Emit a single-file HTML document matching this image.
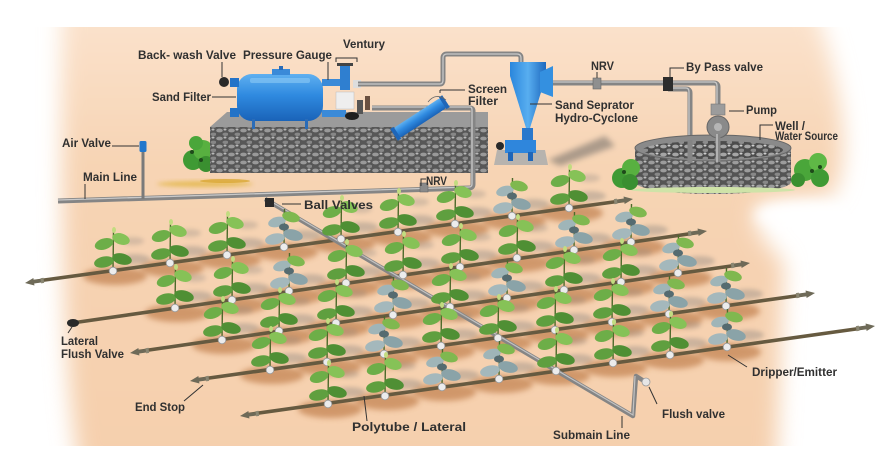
<!DOCTYPE html>
<html><head><meta charset="utf-8"><style>
html,body{margin:0;padding:0;background:#fff;}
svg{display:block;}
.t{font-family:"Liberation Sans",Arial,sans-serif;font-weight:bold;font-size:11.5px;fill:#303030;}
.ld{stroke:#333;stroke-width:1;fill:none;}
.pipe{stroke:#858585;stroke-width:5;fill:none;stroke-linejoin:round;}
.hl{stroke:#c9c9c9;stroke-width:1.3;fill:none;stroke-linejoin:round;}
.lat{stroke:#665a40;stroke-width:3.6;fill:none;}
</style></head><body>
<svg width="880" height="456" viewBox="0 0 880 456" xmlns="http://www.w3.org/2000/svg">
<defs>
<linearGradient id="bg" x1="0" y1="0" x2="0" y2="1">
<stop offset="0" stop-color="#fbe4cf"/><stop offset="0.35" stop-color="#f7d4b4"/><stop offset="1" stop-color="#f5cfad"/>
</linearGradient>
<filter id="b14" x="-20%" y="-20%" width="140%" height="140%"><feGaussianBlur stdDeviation="11"/></filter>
<filter id="b6" x="-50%" y="-50%" width="200%" height="200%"><feGaussianBlur stdDeviation="6"/></filter>
<filter id="b3" x="-50%" y="-50%" width="200%" height="200%"><feGaussianBlur stdDeviation="3"/></filter>
<filter id="b2" x="-50%" y="-50%" width="200%" height="200%"><feGaussianBlur stdDeviation="2"/></filter>
<clipPath id="clipbg"><rect x="0" y="27" width="880" height="419"/></clipPath>
<linearGradient id="blue" x1="0" y1="0" x2="0" y2="1">
<stop offset="0" stop-color="#5fb0f0"/><stop offset="0.45" stop-color="#2f8ae0"/><stop offset="1" stop-color="#1a63b8"/>
</linearGradient>
<linearGradient id="blueh" x1="0" y1="0" x2="1" y2="0">
<stop offset="0" stop-color="#2a86dc"/><stop offset="0.5" stop-color="#58aef0"/><stop offset="1" stop-color="#1d68be"/>
</linearGradient>
<pattern id="stone" width="12" height="8" patternUnits="userSpaceOnUse">
<rect width="12" height="8" fill="#4c4c4c"/>
<ellipse cx="3.5" cy="2.5" rx="3.3" ry="1.9" fill="#a5a5a5"/>
<ellipse cx="9.5" cy="6.3" rx="3" ry="1.7" fill="#8d8d8d"/>
<ellipse cx="9" cy="1.5" rx="1.5" ry="1" fill="#cfcfcf"/>
</pattern>
<g id="soil"><ellipse cx="2" cy="5" rx="32" ry="9" fill="#b8723d" opacity="0.6" filter="url(#b3)"/></g>
<g id="pg">
<ellipse cx="22" cy="-12" rx="15" ry="5" fill="#8c8580" opacity="0.4" filter="url(#b2)"/>
<ellipse cx="20" cy="-30" rx="11" ry="4" fill="#8c8580" opacity="0.3" filter="url(#b2)"/>
<path d="M0,0 L0.5,-40" stroke="#4d6a2a" stroke-width="1.4"/>
<ellipse cx="-9" cy="-9" rx="10" ry="5.5" fill="#5f9f3f" transform="rotate(-12 -9 -9)"/>
<ellipse cx="9" cy="-12" rx="10" ry="5.5" fill="#4f8f34" transform="rotate(14 9 -12)"/>
<ellipse cx="-9" cy="-27" rx="9.5" ry="5.5" fill="#6dae48" transform="rotate(-18 -9 -27)"/>
<ellipse cx="8" cy="-32" rx="9" ry="5.5" fill="#86c257" transform="rotate(18 8 -32)"/>
<ellipse cx="1" cy="-41" rx="2" ry="3" fill="#c2dc80"/>
<circle cx="0" cy="0" r="3.8" fill="#ececec" stroke="#9a9a9a" stroke-width="0.8"/>
</g>
<g id="pb">
<ellipse cx="22" cy="-12" rx="15" ry="5" fill="#8c8580" opacity="0.4" filter="url(#b2)"/>
<path d="M0,0 L0.5,-38" stroke="#4d6a2a" stroke-width="1.4"/>
<ellipse cx="-9" cy="-8" rx="10" ry="5.5" fill="#a4b8bc" transform="rotate(-12 -9 -8)"/>
<ellipse cx="9" cy="-12" rx="10" ry="5.5" fill="#8aa3a8" transform="rotate(14 9 -12)"/>
<ellipse cx="-7" cy="-25" rx="9" ry="5" fill="#9fb5b8" transform="rotate(-15 -7 -25)"/>
<ellipse cx="7" cy="-30" rx="9" ry="5" fill="#7fb84f" transform="rotate(15 7 -30)"/>
<ellipse cx="0" cy="-20" rx="5" ry="3.5" fill="#556b70"/>
<circle cx="0" cy="0" r="3.8" fill="#ececec" stroke="#9a9a9a" stroke-width="0.8"/>
</g>
<g id="es"><polygon points="0,0 9,-3.8 9,-1.8 17,-1.8 17,1.8 9,1.8 9,3.8" fill="#6e6a58"/><rect x="16" y="-2.6" width="3" height="5.2" fill="#8a8672"/></g>
</defs>

<!-- background -->
<g clip-path="url(#clipbg)">
<path d="M66,0 L812,0 C845,90 852,160 832,196 L760,204 C748,215 760,240 784,262 L776,470 L80,470 C62,380 60,200 62,0 Z" fill="url(#bg)" filter="url(#b14)"/>
<ellipse cx="805" cy="215" rx="50" ry="13" fill="#ffffff" filter="url(#b6)"/>
</g>

<!-- sand streak -->
<ellipse cx="205" cy="184" rx="48" ry="3" fill="#e2b645" opacity="0.8" filter="url(#b2)"/>
<ellipse cx="225" cy="181" rx="25" ry="2" fill="#d9a834" opacity="0.8"/>

<!-- left bush -->
<g>
<circle cx="193" cy="160" r="10" fill="#3f9a34"/><circle cx="203" cy="150" r="10" fill="#58b040"/><circle cx="196" cy="143" r="7" fill="#4aa63a"/><circle cx="206" cy="164" r="8" fill="#3a8f30"/>
<circle cx="192" cy="152" r="2" fill="#1e4a1a"/><circle cx="201" cy="160" r="2" fill="#1e4a1a"/>
</g>

<!-- left platform -->
<polygon points="210,127 227,112 488,112 488,127" fill="#9b9b9b"/>
<rect x="210" y="127" width="278" height="46" fill="url(#stone)"/>
<rect x="210" y="127" width="278" height="46" fill="#777" opacity="0.25"/>

<!-- cyclone slab + shadow -->
<polygon points="548,160 605,136 615,146 560,166" fill="#6e6a66" opacity="0.55" filter="url(#b3)"/>
<polygon points="497,150 545,150 548,165 494,165" fill="#b7b3ae"/>

<!-- sand filter tank -->
<rect x="237" y="74" width="86" height="47" rx="15" fill="url(#blue)"/>
<rect x="250" y="78" width="60" height="5" rx="2" fill="#8ccaf5" opacity="0.6"/>
<rect x="272" y="69" width="18" height="6" fill="#3a8ad8"/>
<rect x="279" y="66" width="4" height="4" fill="#2a6cb8"/>
<rect x="230" y="78" width="9" height="9" fill="#2373c8"/><rect x="230" y="108" width="9" height="9" fill="#2373c8"/>
<circle cx="224" cy="82" r="5" fill="#2a2a2a"/><line x1="222" y1="62" x2="222" y2="77" class="ld"/>
<rect x="252" y="119" width="3" height="10" fill="#2a6cb8"/><rect x="305" y="119" width="3" height="10" fill="#2a6cb8"/>
<rect x="322" y="79" width="24" height="7" fill="#3a8ad8"/><rect x="322" y="110" width="24" height="7" fill="#3a8ad8"/>
<!-- venturi assembly -->
<path d="M336,62 L336,58 L357,58 L357,62" class="ld"/>
<rect x="340" y="66" width="10" height="24" fill="#2f7fd0"/>
<rect x="337" y="63" width="16" height="3" fill="#444"/>
<rect x="336" y="92" width="18" height="17" fill="#eeeeee" stroke="#bbb" stroke-width="0.5"/>
<rect x="353" y="80" width="8" height="8" fill="#ddd"/>
<rect x="357" y="100" width="6" height="14" fill="#555"/>
<rect x="365" y="96" width="5" height="14" fill="#6a5040"/>
<ellipse cx="352" cy="116" rx="7" ry="4" fill="#1f1f1f"/>
<line x1="328" y1="62" x2="328" y2="80" class="ld"/>

<!-- pipes -->
<path d="M358,84 L440,84 Q443,84 443,80 L443,58 Q443,54 447,54 L517,54 Q521,54 521,58 L521,64" class="pipe"/>
<path d="M358,84 L440,84 Q443,84 443,80 L443,58 Q443,54 447,54 L517,54 Q521,54 521,58 L521,64" class="hl"/>
<path d="M372,108 L470,108 Q473,108 473,111 L473,184 Q473,188 469,188 L58,201" class="pipe"/>
<path d="M372,107 L470,107 Q472,107 472,110 L472,184 Q472,187 469,187 L58,200" class="hl"/>
<rect x="420" y="183" width="8" height="9" fill="#8a8a8a" stroke="#666" stroke-width="0.6"/>
<path d="M548,83 L714,83 Q718,83 718,87 L718,107" class="pipe"/>
<path d="M548,82 L714,82 Q717,82 717,86 L717,107" class="hl"/>
<path d="M668,89 L686,89 Q690,89 690,93 L690,163" class="pipe"/>
<path d="M668,88 L686,88 Q689,88 689,92 L689,163" class="hl"/>
<rect x="593" y="78" width="8" height="11" fill="#8f8f8f" stroke="#666" stroke-width="0.6"/>
<rect x="663" y="77" width="10" height="14" fill="#2c2c2c"/>

<!-- screen filter -->
<g transform="translate(420,118) rotate(-33)">
<rect x="-28" y="-6" width="56" height="12" rx="3" fill="url(#blue)"/>
<rect x="-31" y="-7" width="4" height="14" fill="#1f66b8"/><rect x="27" y="-7" width="4" height="14" fill="#1f66b8"/>
</g>
<path d="M428,102 Q436,92 446,100" stroke="#666" stroke-width="0.8" fill="none"/>
<line x1="440" y1="93" x2="440" y2="90" class="ld"/><line x1="440" y1="90" x2="465" y2="90" class="ld"/>

<!-- cyclone -->
<rect x="510" y="62" width="36" height="14" fill="url(#blueh)"/>
<polygon points="510,76 546,76 530,128 526,128" fill="url(#blueh)"/>
<polygon points="540,72 553,66 553,97 540,92" fill="#3490e0"/>
<rect x="522" y="128" width="11" height="12" fill="#2a78cc"/>
<rect x="505" y="140" width="31" height="13" fill="#2f86dc"/>
<rect x="508" y="152" width="5" height="9" fill="#1f66b8"/><rect x="528" y="152" width="5" height="9" fill="#1f66b8"/>
<circle cx="500" cy="146" r="4" fill="#2a2a2a"/>
<line x1="530" y1="104" x2="552" y2="104" class="ld"/>

<!-- well -->
<path d="M635,148 L635,182 A78,12 0 0 0 791,182 L791,148 Z" fill="url(#stone)"/>
<path d="M635,148 L635,182 A78,12 0 0 0 791,182 L791,148 Z" fill="#777" opacity="0.2"/>
<ellipse cx="713" cy="148" rx="78" ry="13" fill="#8a8a8a" stroke="#666" stroke-width="1"/>
<ellipse cx="713" cy="150" rx="70" ry="9" fill="url(#stone)"/>
<ellipse cx="713" cy="190" rx="82" ry="3" fill="#cfe3a8"/>
<path d="M690,140 L690,163" class="pipe"/>
<rect x="711" y="104" width="14" height="11" fill="#9c9c9c" stroke="#777" stroke-width="0.6"/>
<circle cx="718" cy="127" r="11" fill="#8a8a8a" stroke="#666" stroke-width="1"/>
<circle cx="718" cy="127" r="4" fill="#b5b5b5"/>
<path d="M718,134 L718,162" class="pipe"/>
<path d="M717,134 L717,162" class="hl"/>
<!-- well bushes -->
<g><circle cx="622" cy="178" r="10" fill="#3f9a34"/><circle cx="631" cy="168" r="9" fill="#58b040"/><circle cx="630" cy="182" r="8" fill="#3a8f30"/><circle cx="624" cy="172" r="2" fill="#1e4a1a"/></g>
<g><circle cx="805" cy="170" r="11" fill="#4aa63a"/><circle cx="818" cy="162" r="9" fill="#5fb846"/><circle cx="820" cy="178" r="9" fill="#3f9a34"/><circle cx="798" cy="180" r="7" fill="#3a8f30"/><circle cx="812" cy="171" r="2" fill="#1e4a1a"/><circle cx="820" cy="167" r="2" fill="#1e4a1a"/></g>

<!-- air valve -->
<line x1="143" y1="150" x2="143" y2="199" stroke="#7a7a7a" stroke-width="3"/>
<rect x="139.5" y="141" width="7" height="11" rx="1.5" fill="#2277cc"/>

<!-- soil patches -->
<g>
<use href="#soil" x="113" y="271"/><use href="#soil" x="170" y="263"/><use href="#soil" x="227" y="255"/><use href="#soil" x="284" y="247"/><use href="#soil" x="341" y="239"/><use href="#soil" x="398" y="232"/><use href="#soil" x="455" y="224"/><use href="#soil" x="512" y="216"/><use href="#soil" x="569" y="208"/>
<use href="#soil" x="175" y="308"/><use href="#soil" x="232" y="300"/><use href="#soil" x="289" y="291"/><use href="#soil" x="346" y="283"/><use href="#soil" x="403" y="275"/><use href="#soil" x="460" y="267"/><use href="#soil" x="517" y="258"/><use href="#soil" x="574" y="250"/><use href="#soil" x="631" y="242"/>
<use href="#soil" x="222" y="340"/><use href="#soil" x="279" y="331"/><use href="#soil" x="336" y="323"/><use href="#soil" x="393" y="315"/><use href="#soil" x="450" y="307"/><use href="#soil" x="507" y="298"/><use href="#soil" x="564" y="290"/><use href="#soil" x="621" y="282"/><use href="#soil" x="678" y="273"/>
<use href="#soil" x="270" y="370"/><use href="#soil" x="327" y="362"/><use href="#soil" x="384" y="354"/><use href="#soil" x="441" y="346"/><use href="#soil" x="498" y="338"/><use href="#soil" x="555" y="330"/><use href="#soil" x="612" y="322"/><use href="#soil" x="669" y="314"/><use href="#soil" x="726" y="306"/>
<use href="#soil" x="328" y="404"/><use href="#soil" x="385" y="396"/><use href="#soil" x="442" y="387"/><use href="#soil" x="499" y="379"/><use href="#soil" x="556" y="371"/><use href="#soil" x="613" y="363"/><use href="#soil" x="670" y="355"/><use href="#soil" x="727" y="347"/>
</g>

<!-- laterals -->
<line x1="30" y1="282" x2="628" y2="200" class="lat"/>
<line x1="72" y1="323" x2="702" y2="232" class="lat"/>
<line x1="135" y1="352" x2="745" y2="264" class="lat"/>
<line x1="195" y1="380" x2="810" y2="294" class="lat"/>
<line x1="245" y1="415" x2="870" y2="327" class="lat"/>
<use href="#es" transform="translate(25,283) rotate(-8)"/>
<use href="#es" transform="translate(633,199) rotate(172)"/>
<use href="#es" transform="translate(707,231) rotate(172)"/>
<use href="#es" transform="translate(130,353) rotate(-8)"/>
<use href="#es" transform="translate(750,263) rotate(172)"/>
<use href="#es" transform="translate(190,381) rotate(-8)"/>
<use href="#es" transform="translate(815,293) rotate(172)"/>
<use href="#es" transform="translate(240,416) rotate(-8)"/>
<use href="#es" transform="translate(875,326) rotate(172)"/>
<ellipse cx="73" cy="323" rx="6" ry="4" fill="#2a2a2a"/>

<!-- submain -->
<path d="M265,199 L633,416 L636,376 L644,381" stroke="#858585" stroke-width="4.5" fill="none" stroke-linejoin="round"/>
<path d="M265,198 L633,415 L635,376" stroke="#c2c2c2" stroke-width="1.2" fill="none"/>
<circle cx="646" cy="382" r="4" fill="#e6e6e6" stroke="#999" stroke-width="0.8"/>
<rect x="265" y="198" width="9" height="9" fill="#2a2a2a"/>

<!-- plants -->
<g>
<use href="#pg" x="113" y="271"/><use href="#pg" x="170" y="263"/><use href="#pg" x="227" y="255"/><use href="#pb" x="284" y="247"/><use href="#pg" x="341" y="239"/><use href="#pg" x="398" y="232"/><use href="#pg" x="455" y="224"/><use href="#pb" x="512" y="216"/><use href="#pg" x="569" y="208"/>
<use href="#pg" x="175" y="308"/><use href="#pg" x="232" y="300"/><use href="#pb" x="289" y="291"/><use href="#pg" x="346" y="283"/><use href="#pg" x="403" y="275"/><use href="#pg" x="460" y="267"/><use href="#pg" x="517" y="258"/><use href="#pb" x="574" y="250"/><use href="#pb" x="631" y="242"/>
<use href="#pg" x="222" y="340"/><use href="#pg" x="279" y="331"/><use href="#pg" x="336" y="323"/><use href="#pb" x="393" y="315"/><use href="#pg" x="450" y="307"/><use href="#pb" x="507" y="298"/><use href="#pg" x="564" y="290"/><use href="#pg" x="621" y="282"/><use href="#pb" x="678" y="273"/>
<use href="#pg" x="270" y="370"/><use href="#pg" x="327" y="362"/><use href="#pb" x="384" y="354"/><use href="#pg" x="441" y="346"/><use href="#pg" x="498" y="338"/><use href="#pg" x="555" y="330"/><use href="#pg" x="612" y="322"/><use href="#pb" x="669" y="314"/><use href="#pb" x="726" y="306"/>
<use href="#pg" x="328" y="404"/><use href="#pg" x="385" y="396"/><use href="#pb" x="442" y="387"/><use href="#pb" x="499" y="379"/><use href="#pg" x="556" y="371"/><use href="#pg" x="613" y="363"/><use href="#pg" x="670" y="355"/><use href="#pb" x="727" y="347"/>
</g>

<!-- leader lines -->
<line x1="212" y1="97" x2="236" y2="97" class="ld"/>
<line x1="112" y1="146" x2="139" y2="146" class="ld"/>
<line x1="85" y1="184" x2="85" y2="199" class="ld"/>
<line x1="282" y1="204" x2="301" y2="204" class="ld"/>
<path d="M421,186 L421,179 L426,179" class="ld"/>
<line x1="597" y1="72" x2="597" y2="78" class="ld"/>
<path d="M670,77 L670,68 L684,68" class="ld"/>
<line x1="729" y1="111" x2="744" y2="111" class="ld"/>
<path d="M760,140 L760,125 L773,125" class="ld"/>
<line x1="68" y1="333" x2="72" y2="327" class="ld"/>
<line x1="184" y1="401" x2="203" y2="385" class="ld"/>
<line x1="367" y1="421" x2="364" y2="396" class="ld"/>
<line x1="622" y1="428" x2="622" y2="416" class="ld"/>
<line x1="657" y1="404" x2="649" y2="387" class="ld"/>
<line x1="747" y1="367" x2="728" y2="355" class="ld"/>

<!-- labels -->
<text class="t" x="138" y="59" textLength="98" lengthAdjust="spacingAndGlyphs">Back- wash Valve</text>
<text class="t" x="243" y="59" textLength="89" lengthAdjust="spacingAndGlyphs">Pressure Gauge</text>
<text class="t" x="343" y="48" textLength="42" lengthAdjust="spacingAndGlyphs">Ventury</text>
<text class="t" x="152" y="101" textLength="59" lengthAdjust="spacingAndGlyphs">Sand Filter</text>
<text class="t" x="62" y="147" textLength="49" lengthAdjust="spacingAndGlyphs">Air Valve</text>
<text class="t" x="83" y="181" textLength="54" lengthAdjust="spacingAndGlyphs">Main Line</text>
<text class="t" x="304" y="209" textLength="69" lengthAdjust="spacingAndGlyphs">Ball Valves</text>
<text class="t" x="426" y="185" textLength="21" lengthAdjust="spacingAndGlyphs">NRV</text>
<text class="t" x="468" y="93" textLength="39" lengthAdjust="spacingAndGlyphs">Screen</text>
<text class="t" x="468" y="105" textLength="30" lengthAdjust="spacingAndGlyphs">Filter</text>
<text class="t" x="555" y="109" textLength="79" lengthAdjust="spacingAndGlyphs">Sand Seprator</text>
<text class="t" x="555" y="122" textLength="83" lengthAdjust="spacingAndGlyphs">Hydro-Cyclone</text>
<text class="t" x="591" y="70" textLength="23" lengthAdjust="spacingAndGlyphs">NRV</text>
<text class="t" x="686" y="71" textLength="77" lengthAdjust="spacingAndGlyphs">By Pass valve</text>
<text class="t" x="746" y="114" textLength="31" lengthAdjust="spacingAndGlyphs">Pump</text>
<text class="t" x="775" y="130" textLength="30" lengthAdjust="spacingAndGlyphs">Well /</text>
<text class="t" x="775" y="140" textLength="63" lengthAdjust="spacingAndGlyphs">Water Source</text>
<text class="t" x="61" y="345" textLength="37" lengthAdjust="spacingAndGlyphs">Lateral</text>
<text class="t" x="61" y="358" textLength="63" lengthAdjust="spacingAndGlyphs">Flush Valve</text>
<text class="t" x="135" y="411" textLength="50" lengthAdjust="spacingAndGlyphs">End Stop</text>
<text class="t" x="352" y="431" textLength="114" lengthAdjust="spacingAndGlyphs">Polytube / Lateral</text>
<text class="t" x="553" y="439" textLength="77" lengthAdjust="spacingAndGlyphs">Submain Line</text>
<text class="t" x="662" y="418" textLength="63" lengthAdjust="spacingAndGlyphs">Flush valve</text>
<text class="t" x="752" y="376" textLength="85" lengthAdjust="spacingAndGlyphs">Dripper/Emitter</text>
</svg>
</body></html>
